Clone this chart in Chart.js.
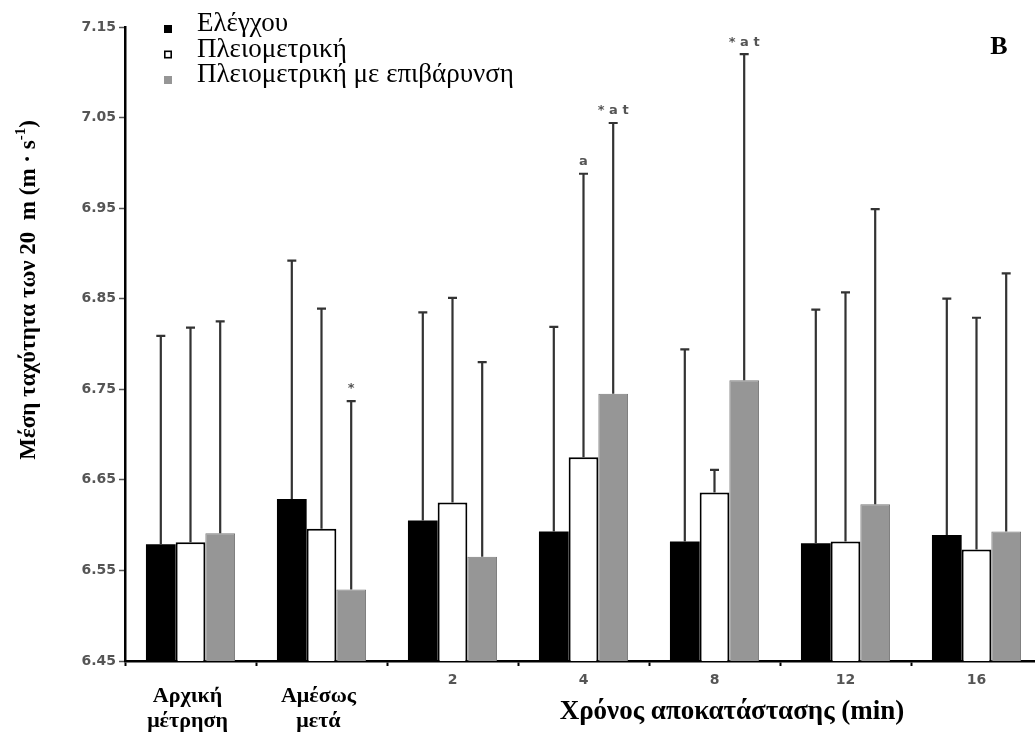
<!DOCTYPE html>
<html>
<head>
<meta charset="utf-8">
<script src="https://cdn.jsdelivr.net/npm/chart.js@4.4.1/dist/chart.umd.min.js"></script>
<style>
  html, body { margin: 0; padding: 0; background: #fff; overflow: hidden; }
  #wrap { position: relative; width: 1042px; height: 734px; }
</style>
</head>
<body>
<div id="wrap"><canvas id="c"></canvas></div>
<script>
// Recovery time points
const categories = [['Αρχική', 'μέτρηση'], ['Αμέσως', 'μετά'], '2', '4', '8', '12', '16'];
const seriesNames = ['Ελέγχου', 'Πλειομετρική', 'Πλειομετρική με επιβάρυνση'];

// Mean 20 m speed (m·s-1)
const controlMean  = [6.579, 6.629, 6.605, 6.593, 6.582, 6.580, 6.589];
const plyoMean     = [6.581, 6.596, 6.625, 6.675, 6.636, 6.582, 6.573];
const loadedMean   = [6.591, 6.529, 6.565, 6.745, 6.760, 6.623, 6.593];

// Standard deviations (upper error bars)
const controlSD = [0.230, 0.263, 0.230, 0.226, 0.212, 0.258, 0.261];
const plyoSD    = [0.237, 0.243, 0.226, 0.313, 0.025, 0.275, 0.256];
const loadedSD  = [0.234, 0.208, 0.215, 0.299, 0.360, 0.326, 0.285];

// Significance marks above the error bars
const controlMarks = ['', '', '', '', '', '', ''];
const plyoMarks    = ['', '', '', 'a', '', '', ''];
const loadedMarks  = ['', '*', '', '* a t', '* a t', '', ''];

const yTicks = [6.45, 6.55, 6.65, 6.75, 6.85, 6.95, 7.05, 7.15];

const sdSets = [controlSD, plyoSD, loadedSD];
const markSets = [controlMarks, plyoMarks, loadedMarks];

const SERIF = '"Liberation Serif", "Times New Roman", serif';
const SANS = '"DejaVu Sans", Arial, sans-serif';

// Upper error bars with caps, plus significance letters
const errorBars = {
  id: 'errorBars',
  afterDatasetsDraw(chart) {
    const ctx = chart.ctx;
    const y = chart.scales.y;
    ctx.save();
    chart.data.datasets.forEach((ds, di) => {
      const meta = chart.getDatasetMeta(di);
      meta.data.forEach((bar, i) => {
        const top = y.getPixelForValue(ds.data[i] + sdSets[di][i]);
        ctx.strokeStyle = '#333';
        ctx.lineWidth = 2.2;
        ctx.beginPath();
        ctx.moveTo(bar.x, bar.y);
        ctx.lineTo(bar.x, top);
        ctx.moveTo(bar.x - 4.5, top);
        ctx.lineTo(bar.x + 4.5, top);
        ctx.stroke();
        const m = markSets[di][i];
        if (m) {
          ctx.fillStyle = '#555';
          ctx.font = 'bold 13px ' + SANS;
          ctx.textAlign = 'center';
          ctx.textBaseline = 'middle';
          ctx.fillText(m, bar.x, top - 12);
        }
      });
    });
    ctx.restore();
  }
};

// Legend, panel letter, axis titles and two-line category labels
const annotations = {
  id: 'annotations',
  afterDraw(chart) {
    const ctx = chart.ctx;
    const x = chart.scales.x;
    ctx.save();

    // legend
    chart.data.datasets.forEach((ds, i) => {
      const cy = 29 + i * 25.5;
      ctx.fillStyle = ds.backgroundColor;
      ctx.fillRect(164, cy - 4, 8, 8);
      ctx.strokeStyle = i === 1 ? '#000' : ds.backgroundColor;
      ctx.lineWidth = 1.6;
      ctx.strokeRect(164.8, cy - 3.2, 6.4, 6.4);
      ctx.fillStyle = '#000';
      ctx.font = '27px ' + SERIF;
      ctx.textAlign = 'left';
      ctx.textBaseline = 'alphabetic';
      ctx.fillText(seriesNames[i], 197, cy + 2);
    });

    // panel letter
    ctx.fillStyle = '#000';
    ctx.font = 'bold 26px ' + SERIF;
    ctx.textAlign = 'center';
    ctx.textBaseline = 'middle';
    ctx.fillText('B', 999, 47);

    // two-line category labels
    ctx.font = 'bold 22px ' + SERIF;
    ctx.textBaseline = 'alphabetic';
    categories.forEach((c, i) => {
      if (Array.isArray(c)) {
        const px = x.getPixelForValue(i) - 3;
        ctx.fillText(c[0], px, 702);
        ctx.fillText(c[1], px, 727);
      }
    });

    // x title
    ctx.font = 'bold 27px ' + SERIF;
    ctx.fillText('Χρόνος αποκατάστασης (min)', 732, 719);

    // y title with superscript
    ctx.translate(35, 290);
    ctx.rotate(-Math.PI / 2);
    const main = 'Μέση ταχύτητα των 20  m (m · s';
    const sup = '-1';
    const close = ')';
    ctx.font = 'bold 23px ' + SERIF;
    const w1 = ctx.measureText(main).width;
    const w3 = ctx.measureText(close).width;
    ctx.font = 'bold 15px ' + SERIF;
    const w2 = ctx.measureText(sup).width;
    const total = w1 + w2 + w3;
    let sx = -total / 2;
    ctx.textAlign = 'left';
    ctx.font = 'bold 23px ' + SERIF;
    ctx.fillText(main, sx, 0);
    ctx.font = 'bold 15px ' + SERIF;
    ctx.fillText(sup, sx + w1, -10);
    ctx.font = 'bold 23px ' + SERIF;
    ctx.fillText(close, sx + w1 + w2, 0);

    ctx.restore();
  }
};

new Chart(document.getElementById('c'), {
  type: 'bar',
  data: {
    labels: categories,
    datasets: [
      { label: seriesNames[0], data: controlMean, backgroundColor: '#000000', borderColor: '#000000', borderWidth: 0 },
      { label: seriesNames[1], data: plyoMean, backgroundColor: '#ffffff', borderColor: '#000000', borderWidth: 2, borderSkipped: 'bottom' },
      { label: seriesNames[2], data: loadedMean, backgroundColor: '#969696', borderColor: '#7a7a7a', borderWidth: 1, borderSkipped: 'bottom' }
    ]
  },
  options: {
    responsive: true,
    maintainAspectRatio: false,
    animation: false,
    layout: { padding: { top: 27, right: 0, left: 0, bottom: 0 } },
    plugins: { legend: { display: false }, tooltip: { enabled: false } },
    datasets: { bar: { categoryPercentage: 0.68, barPercentage: 1.0 } },
    scales: {
      x: {
        afterFit: s => { s.height = 73; },
        border: { color: '#000', width: 2.5 },
        grid: { offset: true, drawOnChartArea: false, tickLength: 5, color: '#000', tickWidth: 2 },
        ticks: {
          padding: 6,
          color: '#555',
          font: { family: SANS, size: 14, weight: 'bold' },
          callback: (v, i) => Array.isArray(categories[i]) ? '' : categories[i]
        }
      },
      y: {
        min: 6.45,
        max: 7.15,
        afterFit: s => { s.width = 125; },
        afterBuildTicks: s => { s.ticks = yTicks.map(v => ({ value: v })); },
        border: { color: '#000', width: 2.5 },
        grid: { drawOnChartArea: false, tickLength: 6, color: '#555', tickWidth: 1.5 },
        ticks: {
          padding: 3,
          color: '#555',
          font: { family: SANS, size: 14, weight: 'bold' },
          callback: v => Number(v).toFixed(2)
        }
      }
    }
  },
  plugins: [errorBars, annotations]
});
</script>
</body>
</html>
